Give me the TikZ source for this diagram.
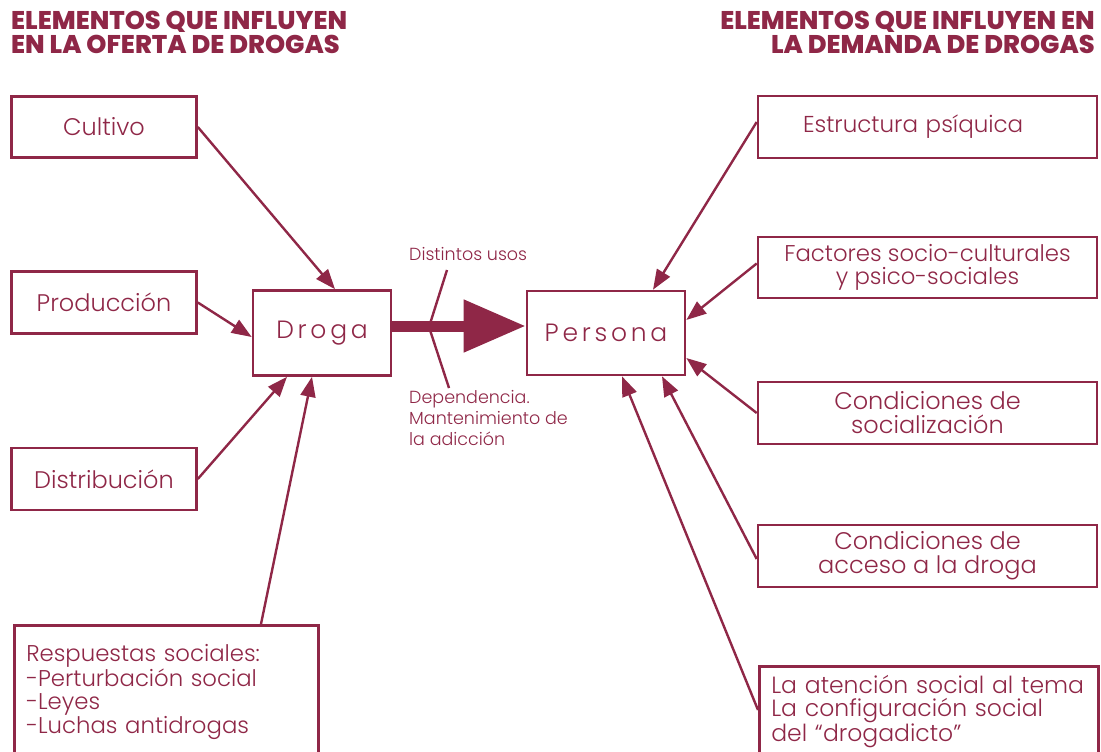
\documentclass[tikz,border=0pt]{standalone}
\usepackage{fontspec}
\setmainfont{Poppins Light}
\newfontfamily\headfont{Poppins ExtraBold}
\usetikzlibrary{arrows.meta,calc}
\definecolor{burg}{RGB}{143,39,71}
\begin{document}
\begin{tikzpicture}[x=1pt,y=-1pt,
  every node/.style={text=burg},
  box/.style={draw=burg, line width=2.6pt, inner sep=0pt, align=center},
  big/.style={font=\fontsize{24}{24}\selectfont},
  mid/.style={font=\fontsize{22.8}{23.5}\selectfont},
  arr/.style={draw=burg, line width=2.4pt, -{Triangle[length=20pt,width=15pt]}},
  lbl/.style={font=\fontsize{17.5}{21}\selectfont, align=left, inner sep=0pt, anchor=north west},
  head/.style={font=\headfont\fontsize{25.6}{24}\selectfont, inner sep=0pt},
  spaced/.style={font=\addfontfeatures{LetterSpace=15}\fontsize{25}{25}\selectfont}
]
\useasboundingbox (0,0) rectangle (1101,752);
\clip (0,0) rectangle (1101,752);

% headings
\node[head, anchor=north west, align=left] (hl) at (11,11) {ELEMENTOS QUE INFLUYEN\\EN LA OFERTA DE DROGAS};
\node[head, anchor=north east, align=right] (hr) at (1095,11) {ELEMENTOS QUE INFLUYEN EN\\LA DEMANDA DE DROGAS};

% left boxes
\node[box, big, minimum width=185, minimum height=61] (cultivo) at (104,127) {Cultivo};
\node[box, big, minimum width=185, minimum height=62] (produccion) at (104,302.5) {Producción};
\node[box, big, minimum width=185, minimum height=62] (distribucion) at (104,479) {Distribución};
\node[box, spaced, minimum width=138, minimum height=85] (droga) at (322,333) {Droga};
\node[box, mid, anchor=north west, align=left, inner xsep=12, text width=280, minimum height=151] (respuestas) at (13,624)
  {Respuestas sociales:\\-Perturbación social\\-Leyes\\-Luchas antidrogas\\~};

% right boxes
\node[box, spaced, minimum width=158, minimum height=84] (persona) at (606,333) {Persona};
\node[box, mid, font=\fontsize{23}{24}\selectfont, align=left, inner xsep=45, text width=249, minimum height=62] (estructura) at (927.5,127) {Estructura psíquica};
\node[box, mid, minimum width=339, minimum height=61] (factores) at (927.5,267.5) {Factores socio-culturales\\y psico-sociales};
\node[box, big, minimum width=339, minimum height=62] (condsoc) at (927.5,413) {Condiciones de\\socialización};
\node[box, big, minimum width=339, minimum height=62] (condacc) at (927.5,556) {Condiciones de\\acceso a la droga};
\node[box, font=\fontsize{23.5}{23.5}\selectfont, anchor=north west, align=left, inner xsep=12, text width=315, minimum height=108] (atencion) at (758,665)
  {La atención social al tema\\La configuración social\\del “drogadicto”\\~};

% labels
\node[lbl] (usos) at (409,247) {Distintos usos};
\node[lbl] (depend) at (409,390) {Dependencia.\\Mantenimiento de\\la adicción};

% left arrows
\draw[arr] (cultivo.east) -- ($(droga.north)+(13,0)$);
\draw[arr] (produccion.east) -- ($(droga.west)+(0,4)$);
\draw[arr] (distribucion.east) -- ($(droga.south)+(-35,0)$);
\draw[arr] ($(respuestas.north west)+(248,0)$) -- ($(droga.south)+(-10,0)$);

% right arrows
\draw[arr] ($(estructura.west)+(0,-5)$) -- ($(persona.north)+(47,0)$);
\draw[arr] ($(factores.west)+(0,-4)$) -- ($(persona.east)+(0,-13)$);
\draw[arr] (condsoc.west) -- ($(persona.east)+(0,25)$);
\draw[arr] ($(condacc.west)+(0,3)$) -- ($(persona.south)+(56,0)$);
\draw[arr] ($(atencion.north west)+(0,45)$) -- ($(persona.south)+(16,0)$);

% central arrow
\draw[draw=burg, line width=11pt, -{Triangle[length=62pt,width=50pt]}] ($(droga.east)+(0,-7)$) -- ($(persona.west)+(0,-7)$);
\coordinate (ct) at (447,270);
\coordinate (cm) at (429,327);
\coordinate (cb) at (449,388);
\draw[draw=burg, line width=2.4pt] (ct) -- (cm) -- (cb);
\end{tikzpicture}
\end{document}
